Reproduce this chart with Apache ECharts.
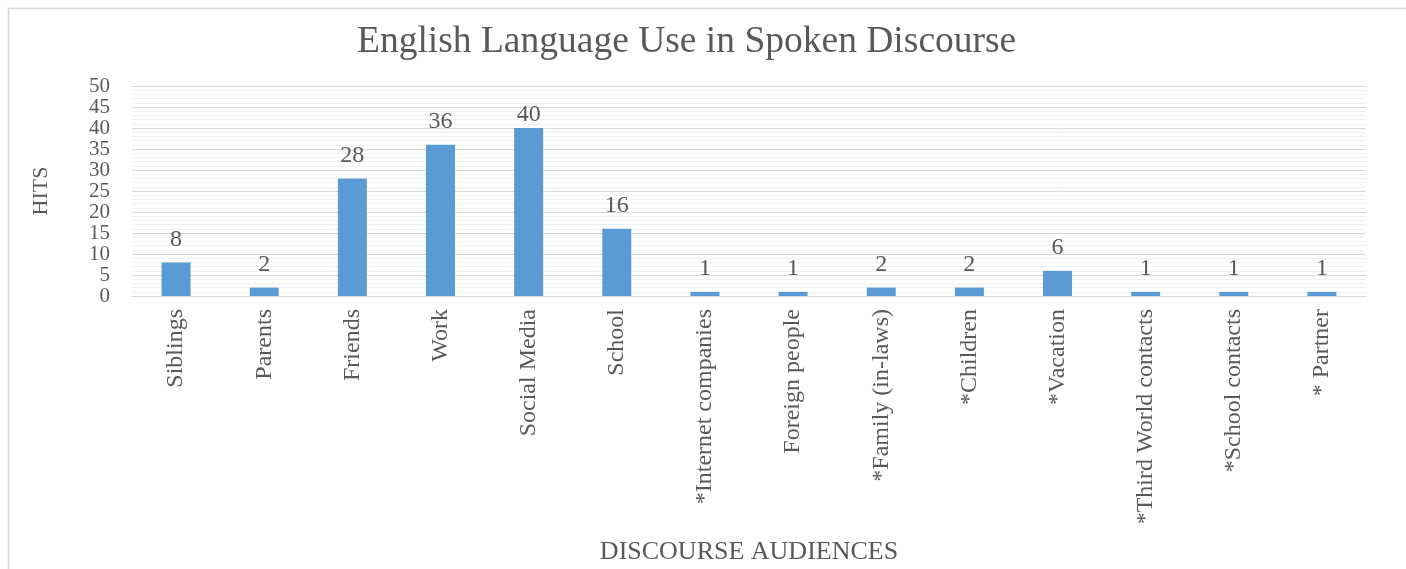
<!DOCTYPE html>
<html>
<head>
<meta charset="utf-8">
<style>
  html, body { margin: 0; padding: 0; background: #ffffff; }
  #chart { width: 1406px; height: 569px; }
</style>
<script src="https://cdn.jsdelivr.net/npm/echarts@6/dist/echarts.min.js"></script>
</head>
<body>
<div id="chart"></div>
<script>
// Discourse audiences and the number of hits for each
const categories = [
  'Siblings', 'Parents', 'Friends', 'Work', 'Social Media', 'School',
  '*Internet companies', 'Foreign people', '*Family (in-laws)', '*Children',
  '*Vacation', '*Third World contacts', '*School contacts', '* Partner'
];
const hits = [8, 2, 28, 36, 40, 16, 1, 1, 2, 2, 6, 1, 1, 1];
const yTicks = [0, 5, 10, 15, 20, 25, 30, 35, 40, 45, 50];

const FONT = '"Liberation Serif", "Times New Roman", serif';
const TEXT = '#595959';

// The tallest bar's label sits closer to its bar so it stays clear of the top line
const peak = Math.max(...hits);
const barData = hits.map(v => (v === peak ? { value: v, label: { distance: 1 } } : v));

const chart = echarts.init(document.getElementById('chart'));
chart.setOption({
  animation: false,
  backgroundColor: '#ffffff',
  graphic: [{
    type: 'rect',
    shape: { x: 8.5, y: 8.5, width: 1500, height: 700 },
    style: { fill: 'none', stroke: '#d9d9d9', lineWidth: 1.5 },
    silent: true
  }],
  title: {
    text: 'English Language Use in Spoken Discourse',
    left: 357,
    top: 23,
    padding: 0,
    textStyle: { fontFamily: FONT, fontSize: 37.5, fontWeight: 'normal', color: TEXT }
  },
  grid: {
    left: 132, right: 40, top: 86, bottom: 273,
    containLabel: false,
    outerBoundsMode: 'none'
  },
  xAxis: {
    type: 'category',
    data: categories,
    name: 'DISCOURSE AUDIENCES',
    nameLocation: 'middle',
    nameGap: 243,
    nameTextStyle: { fontFamily: FONT, fontSize: 26, color: TEXT },
    axisLine: { lineStyle: { color: '#d9d9d9', width: 1 } },
    axisTick: { show: false },
    axisLabel: {
      rotate: 90,
      interval: 0,
      margin: 13,
      fontFamily: FONT,
      fontSize: 24,
      color: TEXT
    }
  },
  yAxis: {
    type: 'value',
    min: yTicks[0],
    max: yTicks[yTicks.length - 1],
    interval: 5,
    name: 'HITS',
    nameLocation: 'middle',
    nameGap: 80,
    nameTextStyle: { fontFamily: FONT, fontSize: 22, color: TEXT },
    axisLine: { show: false },
    axisTick: { show: false },
    axisLabel: {
      margin: 22,
      fontFamily: FONT,
      fontSize: 21,
      color: TEXT,
      showMinLabel: true,
      showMaxLabel: true,
      hideOverlap: false
    },
    splitLine: { lineStyle: { color: '#d9d9d9', width: 1 } },
    minorTick: { show: false, splitNumber: 5 },
    minorSplitLine: { show: true, lineStyle: { color: '#f0f0f0', width: 1 } }
  },
  series: [{
    type: 'bar',
    data: barData,
    barWidth: 29,
    itemStyle: { color: '#5b9bd5' },
    label: {
      show: true,
      position: 'top',
      distance: 11,
      fontFamily: FONT,
      fontSize: 24,
      color: TEXT
    }
  }]
});
</script>
</body>
</html>
